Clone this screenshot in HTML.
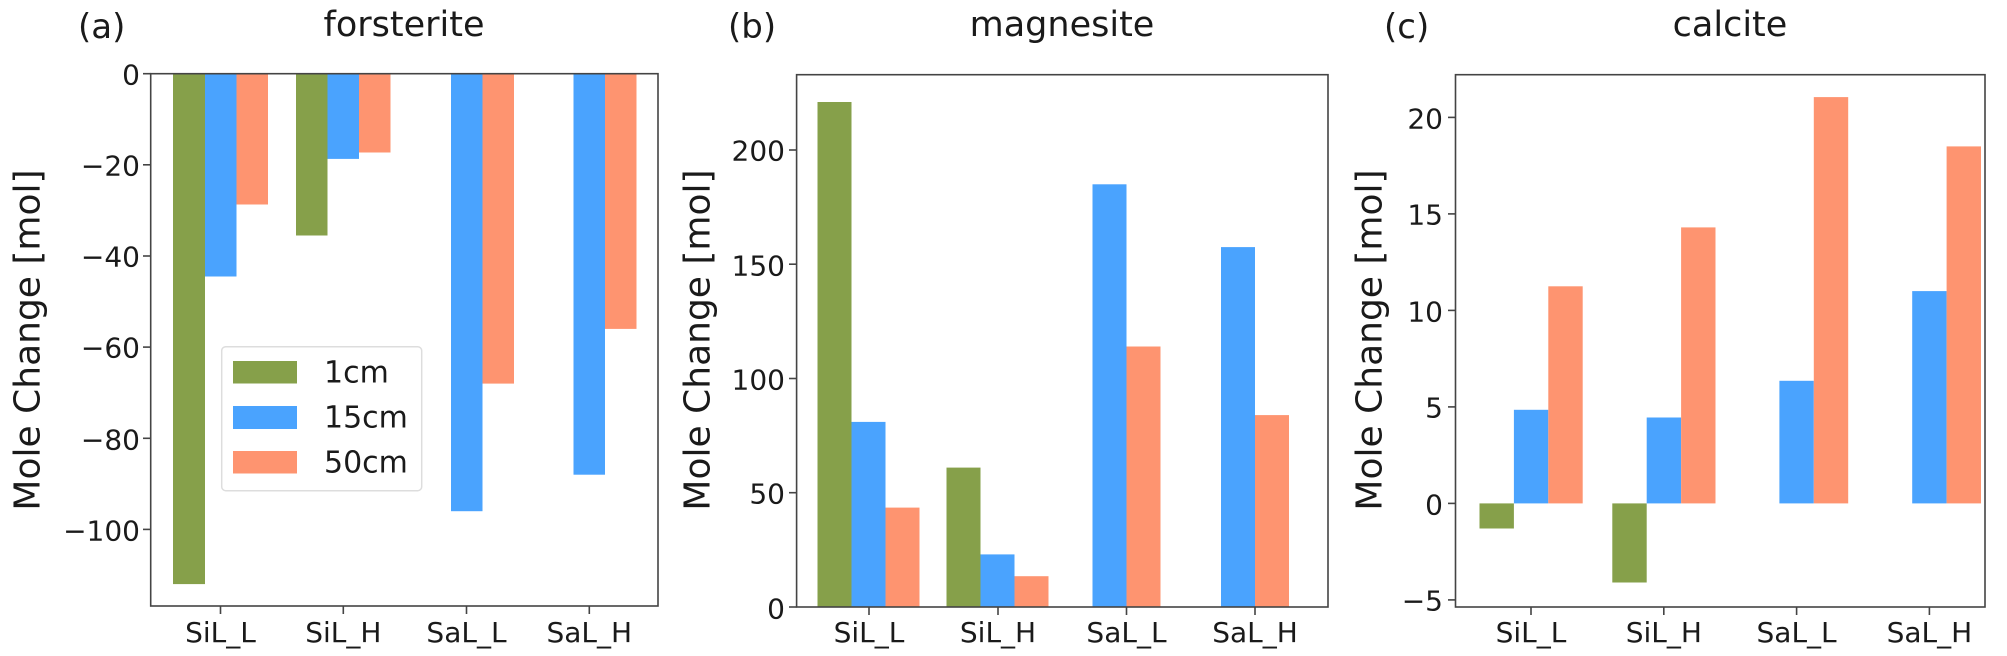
<!DOCTYPE html>
<html><head><meta charset="utf-8"><style>
html,body{margin:0;padding:0;background:#fff;}
svg{display:block;}
text{font-family:"DejaVu Sans","Liberation Sans",sans-serif;fill:#1a1a1a;}
</style></head><body>
<svg width="2007" height="656" viewBox="0 0 2007 656" xmlns="http://www.w3.org/2000/svg">
<!-- Panel a -->
<g>
<text x="78" y="38" font-size="34" font-family="Liberation Sans">(a)</text>
<text x="404" y="36" font-size="35" text-anchor="middle">forsterite</text>
<text transform="translate(28,340) rotate(-90)" font-size="36" text-anchor="middle" dominant-baseline="central">Mole Change [mol]</text>
<rect x="173" y="73.7" width="32" height="510.4" fill="#86a04a"/>
<rect x="205" y="73.7" width="31.5" height="202.8" fill="#4aa3fe"/>
<rect x="236.5" y="73.7" width="31.5" height="130.8" fill="#fe9470"/>
<rect x="296" y="73.7" width="31.5" height="161.8" fill="#86a04a"/>
<rect x="327.5" y="73.7" width="31.5" height="85.2" fill="#4aa3fe"/>
<rect x="359" y="73.7" width="31.5" height="78.8" fill="#fe9470"/>
<rect x="451" y="73.7" width="31.5" height="437.5" fill="#4aa3fe"/>
<rect x="482.5" y="73.7" width="31.5" height="309.9" fill="#fe9470"/>
<rect x="573.5" y="73.7" width="31.5" height="401" fill="#4aa3fe"/>
<rect x="605" y="73.7" width="31.5" height="255.2" fill="#fe9470"/>
<rect x="150.7" y="73.7" width="507.3" height="532.3" fill="none" stroke="#444" stroke-width="1.6"/>
<g stroke="#444" stroke-width="1.6">
<line x1="143" y1="73.7" x2="150.7" y2="73.7"/><line x1="143" y1="164.8" x2="150.7" y2="164.8"/><line x1="143" y1="256" x2="150.7" y2="256"/><line x1="143" y1="347.1" x2="150.7" y2="347.1"/><line x1="143" y1="438.3" x2="150.7" y2="438.3"/><line x1="143" y1="529.4" x2="150.7" y2="529.4"/>
<line x1="220.5" y1="606" x2="220.5" y2="614"/><line x1="343.3" y1="606" x2="343.3" y2="614"/><line x1="466.5" y1="606" x2="466.5" y2="614"/><line x1="589.3" y1="606" x2="589.3" y2="614"/>
</g>
<g font-size="28" text-anchor="end" dominant-baseline="central">
<text x="140" y="75">0</text><text x="140" y="166">−20</text><text x="140" y="257">−40</text><text x="140" y="348">−60</text><text x="140" y="440">−80</text><text x="140" y="531">−100</text>
</g>
<g font-size="28" text-anchor="middle">
<text x="220.5" y="642">SiL_L</text><text x="343.3" y="642">SiL_H</text><text x="466.5" y="642">SaL_L</text><text x="589.3" y="642">SaL_H</text>
</g>
<rect x="221.7" y="346.7" width="200" height="144" rx="4" fill="#fff" stroke="#ddd" stroke-width="1.5"/>
<rect x="233" y="361" width="64" height="22.5" fill="#86a04a"/>
<rect x="233" y="406" width="64" height="23" fill="#4aa3fe"/>
<rect x="233" y="451" width="64" height="22.5" fill="#fe9470"/>
<g font-size="30" dominant-baseline="central">
<text x="324" y="373">1cm</text><text x="324" y="418">15cm</text><text x="324" y="463">50cm</text>
</g>
</g>
<!-- Panel b -->
<g>
<text x="728" y="38" font-size="34" font-family="Liberation Sans">(b)</text>
<text x="1062" y="36" font-size="35" text-anchor="middle">magnesite</text>
<text transform="translate(698,340) rotate(-90)" font-size="36" text-anchor="middle" dominant-baseline="central">Mole Change [mol]</text>
<rect x="817.5" y="102" width="34" height="505" fill="#86a04a"/>
<rect x="851.5" y="421.9" width="34" height="185.1" fill="#4aa3fe"/>
<rect x="885.5" y="507.6" width="34" height="99.4" fill="#fe9470"/>
<rect x="946.5" y="467.6" width="34" height="139.4" fill="#86a04a"/>
<rect x="980.5" y="554.4" width="34" height="52.6" fill="#4aa3fe"/>
<rect x="1014.5" y="576.2" width="34" height="30.8" fill="#fe9470"/>
<rect x="1092.5" y="184.3" width="34" height="422.7" fill="#4aa3fe"/>
<rect x="1126.5" y="346.5" width="34" height="260.5" fill="#fe9470"/>
<rect x="1221" y="247.1" width="34" height="359.9" fill="#4aa3fe"/>
<rect x="1255" y="415.1" width="34" height="191.9" fill="#fe9470"/>
<rect x="796.6" y="74.7" width="531.4" height="532.3" fill="none" stroke="#444" stroke-width="1.6"/>
<g stroke="#444" stroke-width="1.6">
<line x1="789" y1="607" x2="796.6" y2="607"/><line x1="789" y1="492.7" x2="796.6" y2="492.7"/><line x1="789" y1="378.5" x2="796.6" y2="378.5"/><line x1="789" y1="264.2" x2="796.6" y2="264.2"/><line x1="789" y1="150" x2="796.6" y2="150"/>
<line x1="869" y1="607" x2="869" y2="615"/><line x1="998" y1="607" x2="998" y2="615"/><line x1="1126.5" y1="607" x2="1126.5" y2="615"/><line x1="1255" y1="607" x2="1255" y2="615"/>
</g>
<g font-size="28" text-anchor="end" dominant-baseline="central">
<text x="785" y="609">0</text><text x="785" y="494">50</text><text x="785" y="380">100</text><text x="785" y="266">150</text><text x="785" y="151">200</text>
</g>
<g font-size="28" text-anchor="middle">
<text x="869" y="642">SiL_L</text><text x="998" y="642">SiL_H</text><text x="1126.5" y="642">SaL_L</text><text x="1255" y="642">SaL_H</text>
</g>
</g>
<!-- Panel c -->
<g>
<text x="1384" y="38" font-size="34" font-family="Liberation Sans">(c)</text>
<text x="1730" y="36" font-size="35" text-anchor="middle">calcite</text>
<text transform="translate(1370,340) rotate(-90)" font-size="36" text-anchor="middle" dominant-baseline="central">Mole Change [mol]</text>
<rect x="1479.5" y="503.4" width="34.4" height="25.1" fill="#86a04a"/>
<rect x="1513.9" y="409.8" width="34.4" height="93.6" fill="#4aa3fe"/>
<rect x="1548.3" y="286.3" width="34.4" height="217.1" fill="#fe9470"/>
<rect x="1612.3" y="503.4" width="34.4" height="79.1" fill="#86a04a"/>
<rect x="1646.7" y="417.5" width="34.4" height="85.9" fill="#4aa3fe"/>
<rect x="1681.1" y="227.4" width="34.4" height="276" fill="#fe9470"/>
<rect x="1779.4" y="380.8" width="34.4" height="122.6" fill="#4aa3fe"/>
<rect x="1813.8" y="97.1" width="34.4" height="406.3" fill="#fe9470"/>
<rect x="1912.2" y="291.1" width="34.4" height="212.3" fill="#4aa3fe"/>
<rect x="1946.6" y="146.4" width="34.4" height="357" fill="#fe9470"/>
<rect x="1455.5" y="74.7" width="529.5" height="532.3" fill="none" stroke="#444" stroke-width="1.6"/>
<g stroke="#444" stroke-width="1.6">
<line x1="1448" y1="599.9" x2="1455.5" y2="599.9"/><line x1="1448" y1="503.4" x2="1455.5" y2="503.4"/><line x1="1448" y1="406.9" x2="1455.5" y2="406.9"/><line x1="1448" y1="310.4" x2="1455.5" y2="310.4"/><line x1="1448" y1="213.9" x2="1455.5" y2="213.9"/><line x1="1448" y1="117.4" x2="1455.5" y2="117.4"/>
<line x1="1531" y1="607" x2="1531" y2="615"/><line x1="1663.8" y1="607" x2="1663.8" y2="615"/><line x1="1796.6" y1="607" x2="1796.6" y2="615"/><line x1="1929.4" y1="607" x2="1929.4" y2="615"/>
</g>
<g font-size="28" text-anchor="end" dominant-baseline="central">
<text x="1443" y="601">−5</text><text x="1443" y="505">0</text><text x="1443" y="408">5</text><text x="1443" y="312">10</text><text x="1443" y="215">15</text><text x="1443" y="119">20</text>
</g>
<g font-size="28" text-anchor="middle">
<text x="1531" y="642">SiL_L</text><text x="1663.8" y="642">SiL_H</text><text x="1796.6" y="642">SaL_L</text><text x="1929.4" y="642">SaL_H</text>
</g>
</g>
</svg>
</body></html>
